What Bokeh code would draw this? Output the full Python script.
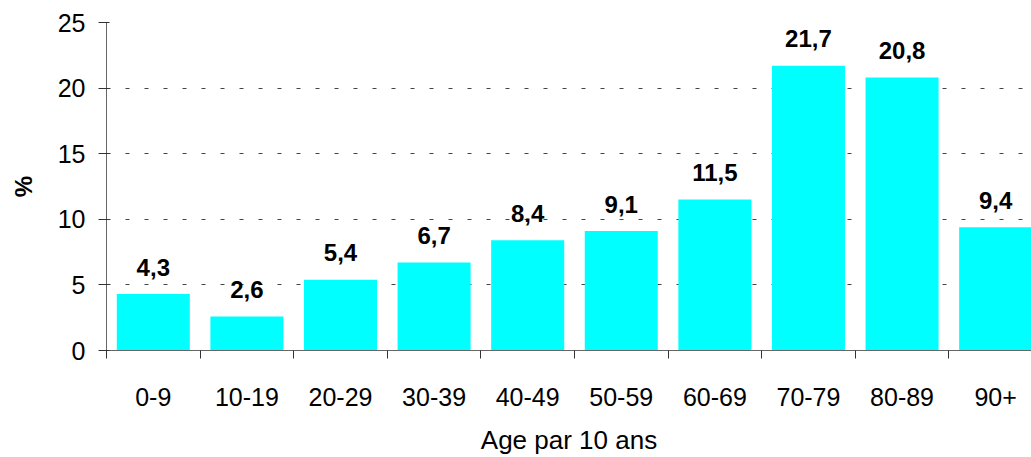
from bokeh.plotting import figure
from bokeh.models import ColumnDataSource, FixedTicker, Range1d
from bokeh.core.properties import value
from bokeh.embed import file_html
from bokeh.resources import INLINE

categories = ["0-9", "10-19", "20-29", "30-39", "40-49", "50-59", "60-69", "70-79", "80-89", "90+"]
values = [4.3, 2.6, 5.4, 6.7, 8.4, 9.1, 11.5, 21.7, 20.8, 9.4]
y_ticks = [0, 5, 10, 15, 20, 25]

centers = [i + 0.5 for i in range(len(categories))]
labels = [f"{v:.1f}".replace(".", ",") for v in values]
src = ColumnDataSource(dict(x=centers, top=values, label=labels))

FONT = "Liberation Sans"

p = figure(width=1031, height=457, output_backend="svg", toolbar_location=None,
           x_range=Range1d(0, 9.883), y_range=Range1d(0, 25),
           min_border_left=106, min_border_top=22, min_border_right=0, min_border_bottom=107)
p.outline_line_color = None
p.background_fill_color = "white"
p.border_fill_color = "white"

p.vbar(x="x", top="top", bottom=0, width=0.78, source=src, fill_color="#00FFFF", line_color=None)
p.text(x="x", y="top", text="label", source=src, text_align="center", text_baseline="alphabetic",
       y_offset=-27, text_font=value(FONT), text_font_style="bold", text_font_size="24px",
       text_color="black")

# x axis
p.xaxis.ticker = FixedTicker(ticks=centers, minor_ticks=list(range(len(categories) + 1)))
p.xaxis.major_label_overrides = {c: lab for c, lab in zip(centers, categories)}
p.xaxis.major_tick_out = 0
p.xaxis.major_tick_in = 0
p.xaxis.minor_tick_out = 8
p.xaxis.minor_tick_in = 0
p.xaxis.major_label_standoff = 29
p.xaxis.axis_label = "Age par 10 ans"
p.xaxis.axis_label_standoff = 16
p.xaxis.axis_label_text_font_style = "normal"

# y axis
p.yaxis.ticker = FixedTicker(ticks=y_ticks, minor_ticks=[])
p.yaxis.major_tick_out = 8
p.yaxis.major_tick_in = 3
p.yaxis.major_label_standoff = 13
p.yaxis.axis_label = "%"
p.yaxis.axis_label_standoff = 18
p.yaxis.axis_label_text_font_style = "bold"

for ax in (p.xaxis[0], p.yaxis[0]):
    ax.axis_line_color = "#666666"
    ax.major_tick_line_color = "#333333"
    ax.minor_tick_line_color = "#333333"
    ax.major_label_text_font = FONT
    ax.major_label_text_font_size = "25px"
    ax.major_label_text_color = "black"
    ax.axis_label_text_font = FONT
    ax.axis_label_text_color = "black"
p.xaxis.axis_label_text_font_size = "26px"
p.yaxis.axis_label_text_font_size = "24px"

p.xgrid.grid_line_color = None
p.ygrid.ticker = FixedTicker(ticks=y_ticks[1:])
p.ygrid.grid_line_color = "#444444"
p.ygrid.grid_line_dash = "4 15"
p.ygrid.grid_line_width = 1

open("out.html", "w").write(file_html(p, INLINE))
